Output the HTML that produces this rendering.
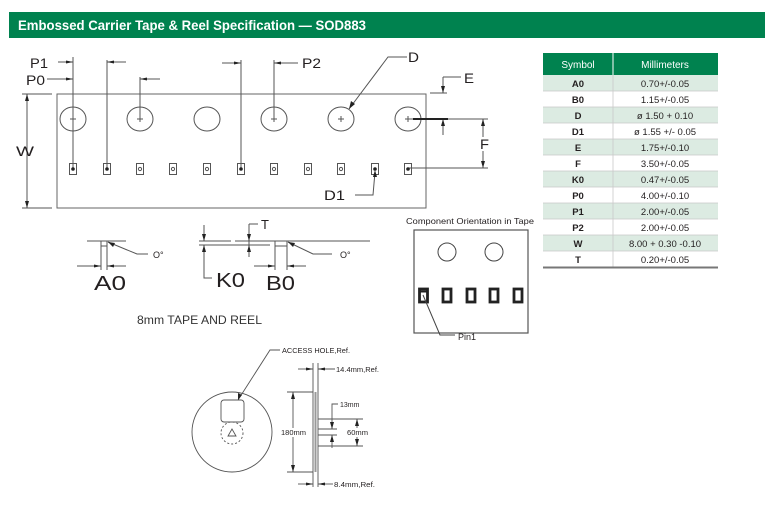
<!DOCTYPE html>
<html><head><meta charset="utf-8"><style>
html,body{margin:0;padding:0;background:#fff;}
svg{display:block;font-family:"Liberation Sans",Arial,sans-serif;}
</style></head><body>
<svg width="775" height="520" viewBox="0 0 775 520" xmlns="http://www.w3.org/2000/svg">
<rect width="775" height="520" fill="#fff"/>
<!-- Header -->
<rect x="9" y="12" width="756" height="26" fill="#00824f"/>
<text x="18" y="30" font-size="14" font-weight="bold" fill="#fff" textLength="348" lengthAdjust="spacingAndGlyphs">Embossed Carrier Tape &amp; Reel Specification — SOD883</text>

<g stroke="#555" stroke-width="1" fill="none">
<!-- tape outline -->
<rect x="57" y="94" width="369" height="114" stroke="#666"/>
<line x1="430" y1="93" x2="447" y2="93"/>
<!-- W dims -->
<line x1="22" y1="94" x2="52" y2="94"/>
<line x1="22" y1="208" x2="52" y2="208"/>
<line x1="27" y1="94" x2="27" y2="208"/>
<!-- holes -->
<ellipse cx="73" cy="119" rx="13" ry="12"/>
<ellipse cx="140" cy="119" rx="13" ry="12"/>
<ellipse cx="207" cy="119" rx="13" ry="12"/>
<ellipse cx="274" cy="119" rx="13" ry="12"/>
<ellipse cx="341" cy="119" rx="13" ry="12"/>
<ellipse cx="408" cy="119" rx="13" ry="12"/>
<!-- pockets -->
<rect x="69.5" y="163.5" width="7" height="11"/>
<rect x="103.5" y="163.5" width="7" height="11"/>
<rect x="136.5" y="163.5" width="7" height="11"/>
<rect x="169.5" y="163.5" width="7" height="11"/>
<rect x="203.5" y="163.5" width="7" height="11"/>
<rect x="237.5" y="163.5" width="7" height="11"/>
<rect x="270.5" y="163.5" width="7" height="11"/>
<rect x="304.5" y="163.5" width="7" height="11"/>
<rect x="337.5" y="163.5" width="7" height="11"/>
<rect x="371.5" y="163.5" width="7" height="11"/>
<rect x="404.5" y="163.5" width="7" height="11"/>
<circle cx="140" cy="169" r="1.6"/>
<circle cx="173" cy="169" r="1.6"/>
<circle cx="207" cy="169" r="1.6"/>
<circle cx="274" cy="169" r="1.6"/>
<circle cx="308" cy="169" r="1.6"/>
<circle cx="341" cy="169" r="1.6"/>
<!-- crosses -->
<path d="M70 119h6M73 116v6M137 119h6M140 116v6M271 119h6M274 116v6M338 119h6M341 116v6M405 119h6M408 116v6"/>
<!-- P lines -->
<line x1="73" y1="57" x2="73" y2="169"/>
<line x1="107" y1="60" x2="107" y2="169"/>
<line x1="140" y1="77" x2="140" y2="119"/>
<line x1="241" y1="60" x2="241" y2="169"/>
<line x1="274" y1="60" x2="274" y2="119"/>
<line x1="58" y1="62" x2="73" y2="62"/>
<line x1="47" y1="79" x2="73" y2="79"/>
<line x1="107" y1="62" x2="126" y2="62"/>
<line x1="140" y1="79" x2="160" y2="79"/>
<line x1="222" y1="63" x2="241" y2="63"/>
<line x1="274" y1="63" x2="298" y2="63"/>
<!-- D leader -->
<polyline points="407,57 388,57 349,109"/>
<!-- D1 leader -->
<polyline points="355,195 373,195 375,172"/>
<!-- right dims -->
<line x1="408" y1="119" x2="488" y2="119"/>
<line x1="408" y1="168" x2="488" y2="168"/>
<line x1="443" y1="77" x2="443" y2="93"/>
<line x1="443" y1="77" x2="461" y2="77"/>
<line x1="443" y1="119" x2="443" y2="135"/>
<line x1="483" y1="119" x2="483" y2="137"/>
<line x1="483" y1="151" x2="483" y2="168"/>
</g>
<line x1="413" y1="119" x2="448" y2="119" stroke="#222" stroke-width="2"/>
<g fill="#222">
<circle cx="73" cy="169" r="1.8"/>
<circle cx="107" cy="169" r="1.8"/>
<circle cx="241" cy="169" r="1.8"/>
<circle cx="375" cy="169" r="1.8"/>
<circle cx="408" cy="169" r="1.8"/>
<!-- arrowheads -->
<polygon points="27,94 25,101 29,101"/>
<polygon points="27,208 25,201 29,201"/>
<polygon points="73,62 66,60.5 66,63.5"/>
<polygon points="73,79 66,77.5 66,80.5"/>
<polygon points="107,62 114,60.5 114,63.5"/>
<polygon points="140,79 147,77.5 147,80.5"/>
<polygon points="241,63 234,61.5 234,64.5"/>
<polygon points="274,63 281,61.5 281,64.5"/>
<polygon points="349,109 351,101 355,104"/>
<polygon points="375,170 373,177 377,177"/>
<polygon points="443,93 441,86 445,86"/>
<polygon points="443,119 441,126 445,126"/>
<polygon points="483,119 481,126 485,126"/>
<polygon points="483,168 481,161 485,161"/>
</g>
<g fill="#231f20" font-size="14">
<text x="30" y="68" textLength="18" lengthAdjust="spacingAndGlyphs">P1</text>
<text x="26" y="85" textLength="19" lengthAdjust="spacingAndGlyphs">P0</text>
<text x="16" y="156" textLength="18" lengthAdjust="spacingAndGlyphs">W</text>
<text x="302" y="68" textLength="19" lengthAdjust="spacingAndGlyphs">P2</text>
<text x="408" y="62" textLength="11" lengthAdjust="spacingAndGlyphs">D</text>
<text x="324" y="200" textLength="21" lengthAdjust="spacingAndGlyphs">D1</text>
<text x="464" y="83" textLength="10" lengthAdjust="spacingAndGlyphs">E</text>
<text x="480" y="149" textLength="9" lengthAdjust="spacingAndGlyphs">F</text>
</g>

<!-- Bottom section -->
<g stroke="#555" stroke-width="1" fill="none">
<line x1="87" y1="241" x2="126" y2="241"/>
<rect x="101" y="241" width="6" height="5"/>
<line x1="101" y1="246" x2="101" y2="270"/>
<line x1="107" y1="246" x2="107" y2="270"/>
<line x1="77" y1="266" x2="101" y2="266"/>
<line x1="107" y1="266" x2="126" y2="266"/>
<polyline points="108,242 137,254 148,254"/>

<line x1="199" y1="241" x2="231" y2="241"/>
<line x1="235" y1="241" x2="370" y2="241"/>
<line x1="199" y1="245" x2="270" y2="245"/>
<line x1="204" y1="225" x2="204" y2="241"/>
<polyline points="204,245 204,278 212,278"/>
<line x1="249" y1="224" x2="249" y2="257"/>
<line x1="249" y1="224" x2="258" y2="224"/>
<rect x="275" y="241" width="12" height="5"/>
<line x1="275" y1="246" x2="275" y2="270"/>
<line x1="287" y1="246" x2="287" y2="270"/>
<line x1="254" y1="266" x2="275" y2="266"/>
<line x1="287" y1="266" x2="306" y2="266"/>
<polyline points="288,242 313,254 332,254"/>
</g>
<g fill="#222">
<polygon points="101,266 94,264.5 94,267.5"/>
<polygon points="107,266 114,264.5 114,267.5"/>
<polygon points="108,242 115,243 113,247"/>
<polygon points="204,241 202,234 206,234"/>
<polygon points="204,245 202,252 206,252"/>
<polygon points="249,241 247,234 251,234"/>
<polygon points="249,245 247,252 251,252"/>
<polygon points="275,266 268,264.5 268,267.5"/>
<polygon points="287,266 294,264.5 294,267.5"/>
<polygon points="288,242 295,243 293,247"/>
</g>
<g fill="#231f20">
<text x="153" y="258" font-size="9">O°</text>
<text x="340" y="258" font-size="9">O°</text>
<text x="261" y="229" font-size="13">T</text>
<text x="94" y="290" font-size="20" textLength="32" lengthAdjust="spacingAndGlyphs">A0</text>
<text x="216" y="287" font-size="20" textLength="29" lengthAdjust="spacingAndGlyphs">K0</text>
<text x="266" y="290" font-size="20" textLength="29" lengthAdjust="spacingAndGlyphs">B0</text>
<text x="137" y="324" font-size="12" fill="#333" textLength="125" lengthAdjust="spacingAndGlyphs">8mm TAPE AND REEL</text>
</g>

<!-- Component orientation -->
<text x="406" y="224" font-size="8.5" fill="#231f20" textLength="128" lengthAdjust="spacingAndGlyphs">Component Orientation in Tape</text>
<rect x="414" y="230" width="114" height="103" fill="none" stroke="#555" stroke-width="1.2"/>
<circle cx="447" cy="252" r="9" fill="none" stroke="#444"/>
<circle cx="494" cy="252" r="9" fill="none" stroke="#444"/>
<g fill="#fff" stroke="#222" stroke-width="2.8">
<rect x="419.5" y="289" width="8" height="13"/>
<rect x="443" y="289" width="8" height="13"/>
<rect x="467" y="289" width="8" height="13"/>
<rect x="490" y="289" width="8" height="13"/>
<rect x="514" y="289" width="8" height="13"/>
</g>
<line x1="419" y1="291.5" x2="428" y2="291.5" stroke="#222" stroke-width="2"/>
<polyline points="423,295 440,335 455,335" fill="none" stroke="#444"/>
<text x="458" y="340" font-size="9" fill="#231f20">Pin1</text>

<!-- Table -->
<rect x="543" y="53" width="175" height="22" fill="#00824f"/>
<line x1="613" y1="53" x2="613" y2="75" stroke="#fff" stroke-width="1"/>
<text x="578" y="68" font-size="10" fill="#fff" text-anchor="middle">Symbol</text>
<text x="665" y="68" font-size="10" fill="#fff" text-anchor="middle">Millimeters</text>
<g fill="#dcebe2">
<rect x="543" y="75" width="175" height="16"/>
<rect x="543" y="107" width="175" height="16"/>
<rect x="543" y="139" width="175" height="16"/>
<rect x="543" y="171" width="175" height="16"/>
<rect x="543" y="203" width="175" height="16"/>
<rect x="543" y="235" width="175" height="16"/>
</g>
<g stroke="#c8c8c8" stroke-width="0.8">
<line x1="543" y1="91" x2="718" y2="91"/>
<line x1="543" y1="107" x2="718" y2="107"/>
<line x1="543" y1="123" x2="718" y2="123"/>
<line x1="543" y1="139" x2="718" y2="139"/>
<line x1="543" y1="155" x2="718" y2="155"/>
<line x1="543" y1="171" x2="718" y2="171"/>
<line x1="543" y1="187" x2="718" y2="187"/>
<line x1="543" y1="203" x2="718" y2="203"/>
<line x1="543" y1="219" x2="718" y2="219"/>
<line x1="543" y1="235" x2="718" y2="235"/>
<line x1="543" y1="251" x2="718" y2="251"/>
<line x1="613" y1="75" x2="613" y2="267"/>
</g>
<rect x="543" y="266.5" width="175" height="2" fill="#777"/>
<g font-size="9.5" fill="#231f20" text-anchor="middle">
<g font-weight="bold">
<text x="578" y="87">A0</text>
<text x="578" y="103">B0</text>
<text x="578" y="119">D</text>
<text x="578" y="135">D1</text>
<text x="578" y="151">E</text>
<text x="578" y="167">F</text>
<text x="578" y="183">K0</text>
<text x="578" y="199">P0</text>
<text x="578" y="215">P1</text>
<text x="578" y="231">P2</text>
<text x="578" y="247">W</text>
<text x="578" y="263">T</text>
</g>
<text x="665" y="87">0.70+/-0.05</text>
<text x="665" y="103">1.15+/-0.05</text>
<text x="665" y="119">ø 1.50 + 0.10</text>
<text x="665" y="135">ø 1.55 +/- 0.05</text>
<text x="665" y="151">1.75+/-0.10</text>
<text x="665" y="167">3.50+/-0.05</text>
<text x="665" y="183">0.47+/-0.05</text>
<text x="665" y="199">4.00+/-0.10</text>
<text x="665" y="215">2.00+/-0.05</text>
<text x="665" y="231">2.00+/-0.05</text>
<text x="665" y="247">8.00 + 0.30 -0.10</text>
<text x="665" y="263">0.20+/-0.05</text>
</g>

<!-- Reel -->
<g stroke="#555" stroke-width="0.9" fill="none">
<circle cx="232" cy="432" r="40"/>
<rect x="221" y="400" width="23" height="22" rx="3"/>
<circle cx="232" cy="433" r="11" stroke-dasharray="2,2"/>
<polygon points="232,429 228,436 236,436"/>
<polyline points="280,350 270,350 238,400"/>
<line x1="313" y1="363" x2="313" y2="487"/>
<line x1="318" y1="363" x2="318" y2="487"/>
<line x1="287" y1="392" x2="313" y2="392"/>
<line x1="287" y1="472" x2="313" y2="472"/>
<line x1="293" y1="392" x2="293" y2="472"/>
<line x1="298" y1="369" x2="313" y2="369"/>
<line x1="318" y1="369" x2="335" y2="369"/>
<line x1="298" y1="484" x2="313" y2="484"/>
<line x1="318" y1="484" x2="333" y2="484"/>
<line x1="318" y1="419" x2="363" y2="419"/>
<line x1="318" y1="446" x2="363" y2="446"/>
<line x1="318" y1="429" x2="337" y2="429"/>
<line x1="318" y1="435" x2="337" y2="435"/>
<polyline points="338,404 332,404 332,429"/>
<line x1="332" y1="435" x2="332" y2="448"/>
<line x1="357" y1="419" x2="357" y2="446"/>
</g>
<line x1="315.5" y1="392" x2="315.5" y2="472" stroke="#999" stroke-width="2"/>
<g fill="#222">
<polygon points="238,400 238,393 242,395"/>
<polygon points="293,392 291,399 295,399"/>
<polygon points="293,472 291,465 295,465"/>
<polygon points="313,369 306,367.5 306,370.5"/>
<polygon points="318,369 325,367.5 325,370.5"/>
<polygon points="313,484 306,482.5 306,485.5"/>
<polygon points="318,484 325,482.5 325,485.5"/>
<polygon points="332,429 330,422 334,422"/>
<polygon points="332,435 330,442 334,442"/>
<polygon points="357,419 355,426 359,426"/>
<polygon points="357,446 355,439 359,439"/>
</g>
<rect x="281" y="428" width="25" height="9" fill="#fff"/>
<rect x="347" y="428" width="21" height="9" fill="#fff"/>
<g font-size="7" fill="#231f20">
<text x="282" y="353" textLength="68" lengthAdjust="spacingAndGlyphs">ACCESS HOLE,Ref.</text>
<text x="336" y="372" textLength="43" lengthAdjust="spacingAndGlyphs">14.4mm,Ref.</text>
<text x="334" y="487" textLength="41" lengthAdjust="spacingAndGlyphs">8.4mm,Ref.</text>
<text x="340" y="407">13mm</text>
<text x="281" y="435" textLength="25" lengthAdjust="spacingAndGlyphs">180mm</text>
<text x="347" y="435" textLength="21" lengthAdjust="spacingAndGlyphs">60mm</text>
</g>
</svg>
</body></html>
